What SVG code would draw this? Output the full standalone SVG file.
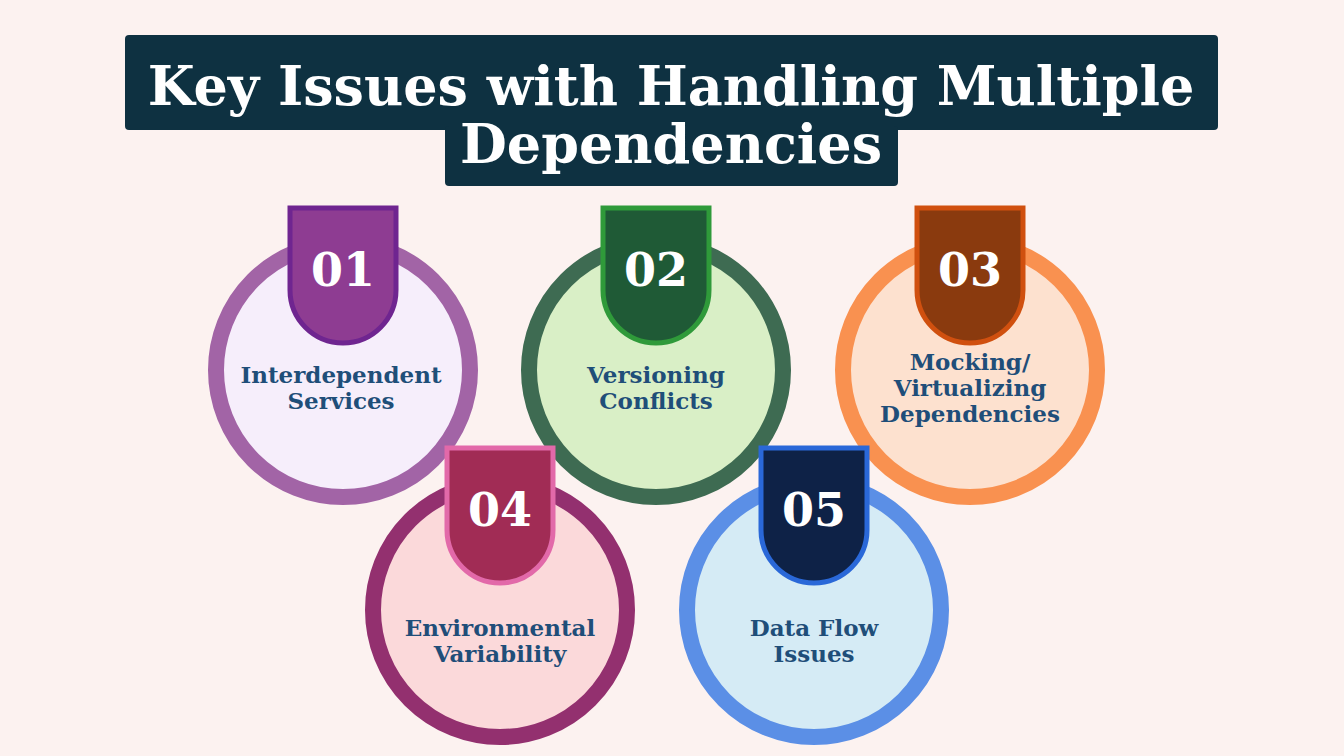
<svg xmlns="http://www.w3.org/2000/svg" width="1344" height="756" viewBox="0 0 1344 756">
<style>
.t{font-family:"DejaVu Serif","Liberation Serif",serif;font-weight:bold;fill:#fff;text-anchor:middle}
.n{font-family:"DejaVu Serif","Liberation Serif",serif;font-weight:bold;fill:#fff;text-anchor:middle;font-size:46px}
.l{font-family:"DejaVu Serif","Liberation Serif",serif;font-weight:bold;fill:#1f4e79;text-anchor:middle;font-size:23px}
.c{stroke-width:16}
.b{stroke-width:5}
</style>
<rect width="1344" height="756" fill="#fcf2f0"/>
<g id="title">
<rect x="125" y="35" width="1093" height="95" rx="4" fill="#0e3141"/>
<rect x="445" y="126" width="453" height="60" rx="4" fill="#0e3141"/>
<text class="t" x="671" y="105" font-size="54">Key Issues with Handling Multiple</text>
<text class="t" x="671" y="163" font-size="54">Dependencies</text>
</g>
<g id="node1">
<circle class="c" cx="343" cy="370" r="127" fill="#f6eefb" stroke="#a264a6"/>
<path class="b" d="M290,208 H396 V290 A53,53 0 0 1 290,290 Z" fill="#8e3c92" stroke="#6f2590"/>
<text class="n" x="343" y="286">01</text>
<text class="l" x="341" y="383">Interdependent</text><text class="l" x="341" y="409">Services</text>
</g>
<g id="node2">
<circle class="c" cx="656" cy="370" r="127" fill="#d9efc6" stroke="#3e6b52"/>
<path class="b" d="M603,208 H709 V290 A53,53 0 0 1 603,290 Z" fill="#1f5a36" stroke="#2f9a3a"/>
<text class="n" x="656" y="286">02</text>
<text class="l" x="656" y="383">Versioning</text><text class="l" x="656" y="409">Conflicts</text>
</g>
<g id="node3">
<circle class="c" cx="970" cy="370" r="127" fill="#fde1cf" stroke="#f99150"/>
<path class="b" d="M917,208 H1023 V290 A53,53 0 0 1 917,290 Z" fill="#8a3a0e" stroke="#d0500f"/>
<text class="n" x="970" y="286">03</text>
<text class="l" x="970" y="370">Mocking/</text><text class="l" x="970" y="396">Virtualizing</text><text class="l" x="970" y="422">Dependencies</text>
</g>
<g id="node4">
<circle class="c" cx="500" cy="610" r="127" fill="#fbd9da" stroke="#93306f"/>
<path class="b" d="M447,448 H553 V530 A53,53 0 0 1 447,530 Z" fill="#a12c55" stroke="#e269a9"/>
<text class="n" x="500" y="526">04</text>
<text class="l" x="500" y="636">Environmental</text><text class="l" x="500" y="662">Variability</text>
</g>
<g id="node5">
<circle class="c" cx="814" cy="610" r="127" fill="#d5ebf5" stroke="#5b8fe6"/>
<path class="b" d="M761,448 H867 V530 A53,53 0 0 1 761,530 Z" fill="#0e2247" stroke="#2a68d8"/>
<text class="n" x="814" y="526">05</text>
<text class="l" x="814" y="636">Data Flow</text><text class="l" x="814" y="662">Issues</text>
</g>
<g id="connectors"/>
</svg>
